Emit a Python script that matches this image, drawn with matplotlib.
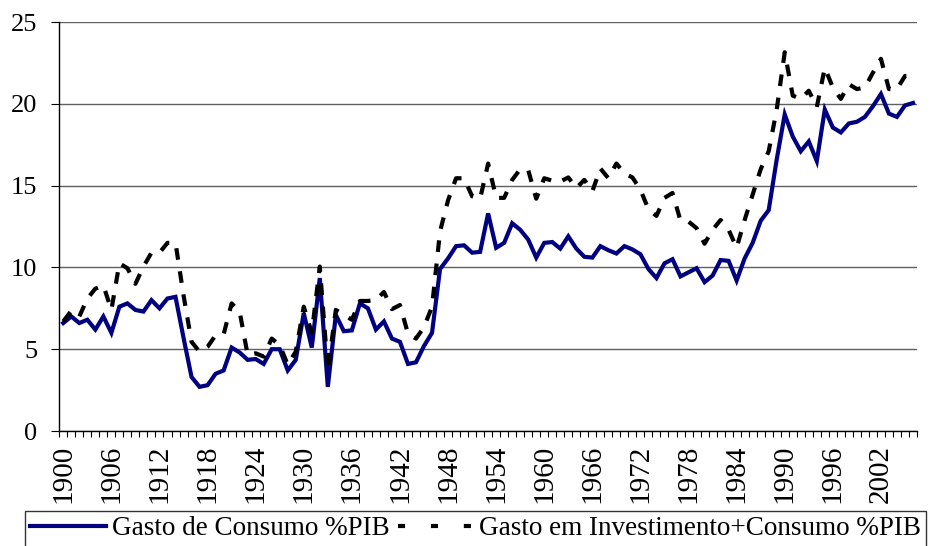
import numpy as np
import matplotlib
matplotlib.use("Agg")
import matplotlib.pyplot as plt
from matplotlib.lines import Line2D
from matplotlib.ticker import FixedLocator

plt.rcParams['font.family'] = ['Liberation Serif', 'DejaVu Serif']

years = list(range(1900, 2007))

consumo = [6.6, 7.0, 6.6, 6.8, 6.2, 7.0, 6.0, 7.6, 7.8, 7.4,
           7.3, 8.0, 7.5, 8.1, 8.2, 5.7, 3.3, 2.7, 2.8, 3.5,
           3.7, 5.1, 4.8, 4.35, 4.4, 4.1, 5.0, 5.0, 3.7, 4.35,
           7.2, 5.1, 9.35, 2.7, 7.1, 6.1, 6.15, 7.8, 7.5, 6.2,
           6.7, 5.65, 5.45, 4.1, 4.2, 5.2, 6.0, 9.9, 10.55, 11.3,
           11.35, 10.9, 10.95, 13.3, 11.2, 11.5, 12.7, 12.3, 11.7, 10.6,
           11.5, 11.55, 11.15, 11.9, 11.15, 10.65, 10.6, 11.3, 11.05, 10.85,
           11.3, 11.1, 10.8, 9.9, 9.35, 10.25, 10.5, 9.45, 9.7, 9.95,
           9.1, 9.5, 10.45, 10.4, 9.2, 10.55, 11.5, 12.85, 13.5, 16.6,
           19.35, 18.0, 17.1, 17.7, 16.5, 19.65, 18.55, 18.25, 18.8, 18.9,
           19.2, 19.85, 20.6, 19.4, 19.2, 19.9, 20.05]

invest_consumo = [6.7, 7.35, 7.0, 8.1, 8.7, 8.9, 7.4, 10.25, 9.95, 9.0,
                  10.05, 10.9, 10.9, 11.5, 11.5, 8.3, 5.45, 4.85, 5.15, 5.85,
                  5.9, 7.8, 7.3, 4.65, 4.75, 4.55, 5.65, 5.25, 4.05, 4.85,
                  7.6, 6.0, 10.05, 3.7, 7.4, 7.1, 6.8, 7.95, 7.95, 8.0,
                  8.5, 7.45, 7.7, 5.95, 5.65, 6.35, 7.6, 12.2, 14.1, 15.45,
                  15.45, 14.35, 14.2, 16.35, 14.25, 14.25, 15.35, 16.0, 15.95, 14.2,
                  15.45, 15.3, 15.25, 15.5, 14.85, 15.35, 14.65, 16.05, 15.45, 16.35,
                  15.75, 15.5, 14.75, 13.55, 13.15, 14.25, 14.55, 12.85, 12.8, 12.4,
                  11.45, 12.3, 12.9, 12.3, 11.2, 12.9, 14.45, 16.0, 17.1, 19.65,
                  23.15, 20.5, 20.3, 20.8, 19.8, 22.2, 21.0, 20.3, 21.2, 20.9,
                  21.0, 21.9, 22.75, 20.9, 20.9, 21.7, 21.7]

label_years = list(range(1900, 2007, 6))
yticks = [0, 5, 10, 15, 20, 25]

fig = plt.figure(figsize=(9.32, 5.46), dpi=100)
ax = fig.add_axes([0.0636, 0.2106, 0.9203, 0.7491])

x = np.arange(len(years))
ax.plot(x, consumo, color='#000080', lw=3.0, solid_joinstyle='miter', zorder=3)
ax.plot(x, invest_consumo, color='black', lw=3.0, linestyle=(0, (2.8, 2.8)),
        dash_capstyle='butt', zorder=3)

ax.set_xlim(-0.5, len(years) - 0.5)
ax.set_ylim(0, 25)
ax.set_yticks(yticks)
ax.set_yticklabels([str(v) for v in yticks])
ax.yaxis.grid(True, color='#606060', lw=1.0)
ax.set_axisbelow(True)

ax.set_xticks([years.index(y) for y in label_years])
ax.set_xticklabels([str(y) for y in label_years], rotation=90)
ax.xaxis.set_minor_locator(FixedLocator(np.arange(-0.5, len(years), 1.0)))
ax.tick_params(axis='x', which='major', length=0, pad=10, labelsize=21)
ax.tick_params(axis='x', which='minor', length=4.3, width=0.8, direction='out')
ax.tick_params(axis='y', length=5.8, width=0.8, pad=10, labelsize=19)

for side in ['top', 'right']:
    ax.spines[side].set_visible(False)
ax.spines['left'].set_linewidth(1.0)
ax.spines['bottom'].set_linewidth(1.0)

# legend handles (dashed sample drawn as three square dashes, like the original)
handles = [Line2D([], [], color='#000080', lw=3.0),
           Line2D([], [], color='black', lw=3.0, linestyle=(0, (1.7, 6.2)),
                  dash_capstyle='butt')]
labels = ['Gasto de Consumo %PIB', 'Gasto em Investimento+Consumo %PIB']
leg = fig.legend(handles, labels, loc='upper left',
                 bbox_to_anchor=(25 / 932, 1 - 511 / 546),
                 ncol=2, fontsize=19.5, frameon=True, fancybox=False,
                 handlelength=2.8, handletextpad=0.2, columnspacing=0.3,
                 borderpad=0.2, borderaxespad=0)
leg.get_frame().set_edgecolor('black')
leg.get_frame().set_linewidth(1.0)

fig.savefig('out.png', dpi=100)
